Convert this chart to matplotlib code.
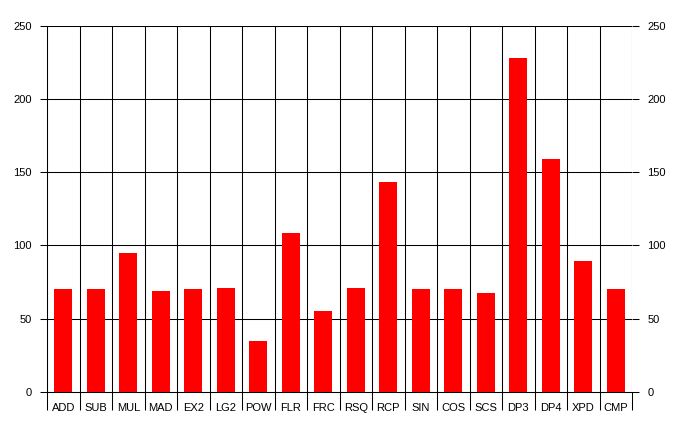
import matplotlib

matplotlib.use("Agg")
import matplotlib.pyplot as plt
import numpy as np

# instruction throughput per opcode
opcodes = ["ADD", "SUB", "MUL", "MAD", "EX2", "LG2", "POW", "FLR", "FRC",
           "RSQ", "RCP", "SIN", "COS", "SCS", "DP3", "DP4", "XPD", "CMP"]
values = [70, 70, 95, 69, 70, 71, 35, 108.5, 55.5,
          71, 143, 70, 70, 67.5, 228, 159, 89.5, 70]
y_ticks = [0, 50, 100, 150, 200, 250]

plt.rcParams["font.family"] = ["Liberation Sans", "DejaVu Sans"]
plt.rcParams["font.size"] = 8

dpi = 100
fig = plt.figure(figsize=(680 / dpi, 432 / dpi), dpi=dpi)
ax = fig.add_axes((47 / 680, 40 / 432, 585 / 680, 366.5 / 432))

x = np.arange(len(opcodes))
ax.bar(x, values, width=0.56, color="#ff0000", zorder=3)

ax.set_xlim(-0.5, len(opcodes) - 0.5)
ax.set_ylim(0, 250)

lw = 0.75
# vertical grid at category boundaries, horizontal at value ticks
for b in np.arange(-0.5, len(opcodes), 1.0):
    ax.axvline(b, color="black", lw=lw, zorder=1)
for t in y_ticks:
    ax.axhline(t, color="black", lw=lw, zorder=1)

for s in ax.spines.values():
    s.set_linewidth(lw)
ax.spines["top"].set_visible(False)
ax.spines["right"].set_visible(False)

ax.set_xticks(x)
ax.set_xticklabels(opcodes)
ax.tick_params(axis="x", which="major", length=0, pad=8)
ax.set_xticks(np.arange(-0.5, len(opcodes), 1.0), minor=True)
ax.tick_params(axis="x", which="minor", length=13, width=lw, direction="out")

ax.set_yticks(y_ticks)
ax.tick_params(axis="y", length=5, width=lw, pad=6)

ax2 = ax.twinx()
ax2.set_ylim(0, 250)
ax2.set_yticks(y_ticks)
ax2.tick_params(axis="y", length=5, width=lw, pad=6)
for s in ax2.spines.values():
    s.set_visible(False)

fig.savefig("out.png", dpi=dpi)
